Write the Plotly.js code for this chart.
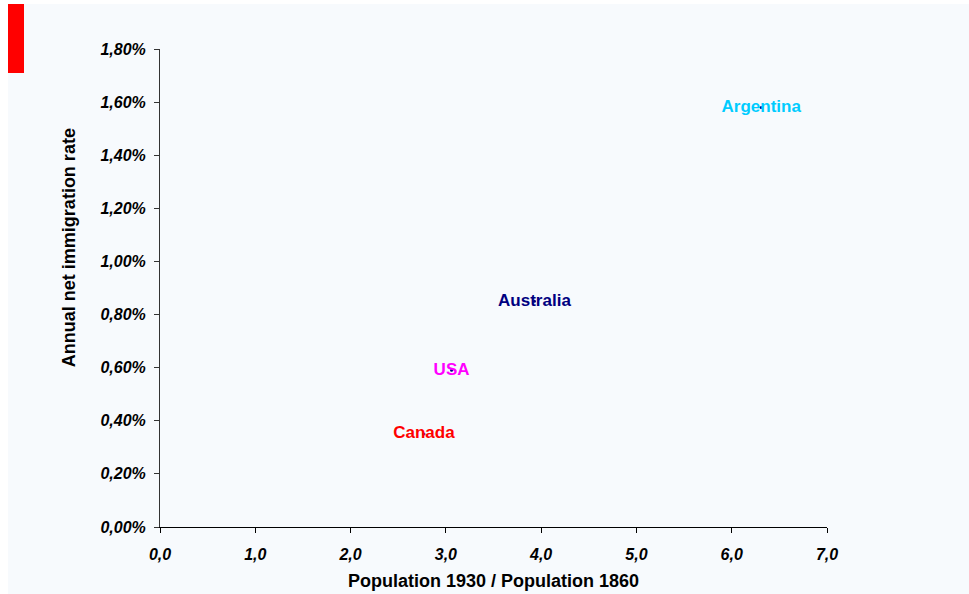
<!DOCTYPE html>
<html>
<head>
<meta charset="utf-8">
<script src="https://cdn.plot.ly/plotly-3.0.1.min.js"></script>
<style>
html,body{margin:0;padding:0;background:#ffffff;width:969px;height:594px;overflow:hidden;}
#chart{position:absolute;left:8px;top:4px;width:961px;height:590px;}
#flag{position:absolute;left:8px;top:4px;width:16px;height:69px;background:#ff0000;z-index:5;}
</style>
</head>
<body>
<div id="chart"></div>
<div id="flag"></div>
<script>
const countries = ["Argentina", "Australia", "USA", "Canada"];
const popRatio = [6.31, 3.93, 3.06, 2.77];
const immigRate = [0.0158, 0.0085, 0.0059, 0.0035];
const labelColors = ["#00CCFF", "#000080", "#FF00FF", "#FF0000"];
const xTicks = [0, 1, 2, 3, 4, 5, 6, 7];
const yTicks = [0, 0.002, 0.004, 0.006, 0.008, 0.010, 0.012, 0.014, 0.016, 0.018];
const xTitle = "Population 1930 / Population 1860";
const yTitle = "Annual net immigration rate";

const fontFam = "Liberation Sans, Arial, sans-serif";

const trace = {
  x: popRatio,
  y: immigRate,
  text: countries,
  mode: "markers+text",
  type: "scatter",
  textposition: "middle center",
  marker: {color: "#000080", size: 3},
  textfont: {family: fontFam, size: 17, weight: "bold", color: labelColors},
  hoverinfo: "none",
  cliponaxis: false
};

const layout = {
  width: 961, height: 590,
  paper_bgcolor: "#F7FAFD",
  plot_bgcolor: "#F7FAFD",
  margin: {l: 152, r: 142, t: 45, b: 67},
  separators: ", ",
  showlegend: false,
  font: {family: fontFam, color: "#000"},
  xaxis: {
    range: [0, 7],
    tickvals: xTicks,
    tickformat: ".1f",
    showgrid: false, zeroline: false,
    showline: true, linecolor: "#000", linewidth: 1,
    ticks: "outside", ticklen: 5, tickcolor: "#000",
    ticklabelstandoff: 8,
    tickfont: {family: fontFam, size: 16, weight: "bold", style: "italic", color: "#000"},
    title: {text: xTitle, font: {family: fontFam, size: 18, weight: "bold", color: "#000"}, standoff: 12}
  },
  yaxis: {
    range: [0, 0.018],
    tickvals: yTicks,
    tickformat: ".2%",
    showgrid: false, zeroline: false,
    showline: true, linecolor: "#333", linewidth: 1,
    ticks: "outside", ticklen: 5, tickcolor: "#333",
    ticklabelstandoff: 5,
    tickfont: {family: fontFam, size: 16, weight: "bold", style: "italic", color: "#000"}
  },
  annotations: [{
    text: yTitle,
    xref: "paper", yref: "paper",
    x: -0.136, y: 0.584,
    xanchor: "center", yanchor: "middle",
    textangle: -90,
    showarrow: false,
    font: {family: fontFam, size: 18, weight: "bold", color: "#000"}
  }]
};

Plotly.newPlot("chart", [trace], layout, {displayModeBar: false, staticPlot: true});
</script>
</body>
</html>
